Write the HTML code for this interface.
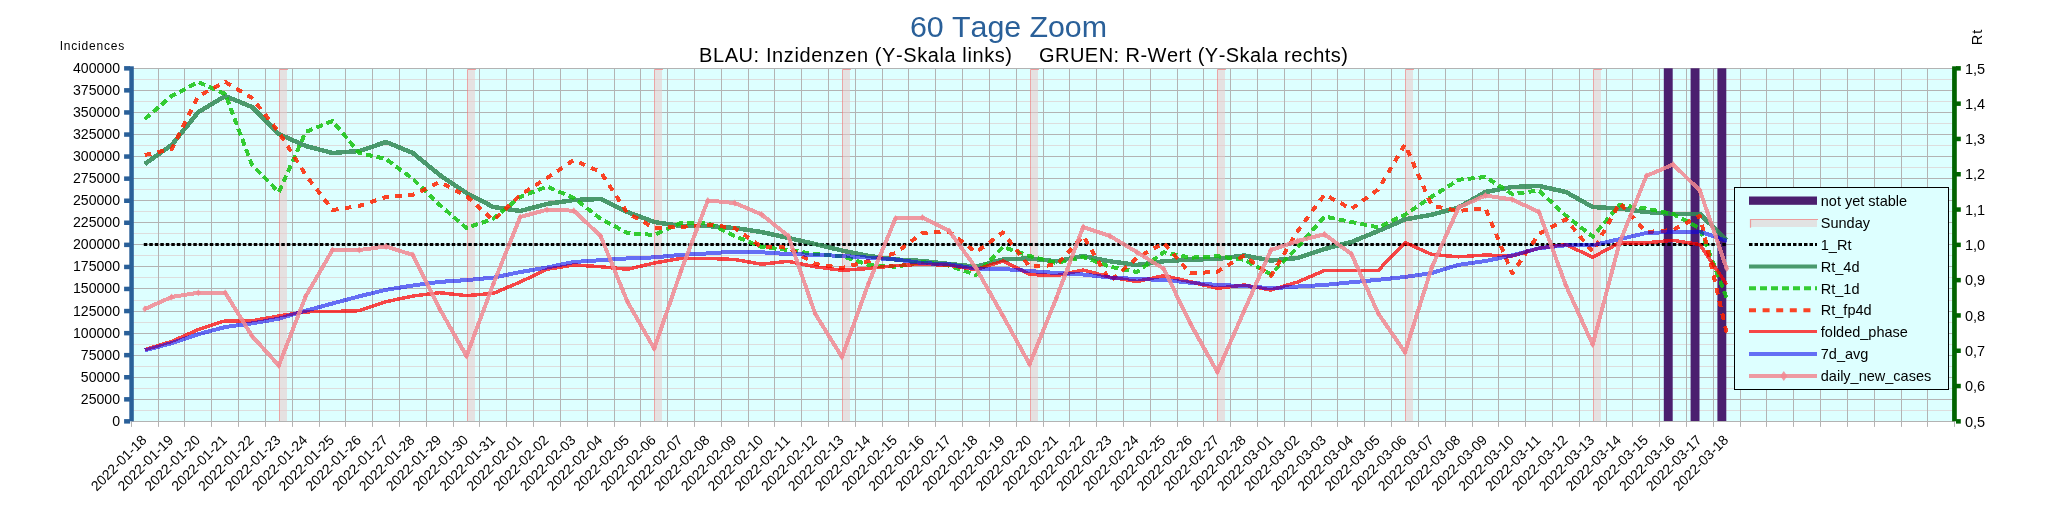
<!DOCTYPE html><html><head><meta charset="utf-8"><title>60 Tage Zoom</title>
<style>html,body{margin:0;padding:0;background:#fff;width:2048px;height:527px;overflow:hidden}svg{display:block;will-change:transform}text{font-family:"Liberation Sans", sans-serif;font-kerning:none}</style></head><body>
<svg width="2048" height="527" viewBox="0 0 2048 527">
<rect x="131.4" y="68.3" width="1823.3" height="353.1" fill="#ddffff"/>
<path d="M131.4 79.5H1954.7M131.4 101.5H1954.7M131.4 123.5H1954.7M131.4 145.5H1954.7M131.4 167.5H1954.7M131.4 189.5H1954.7M131.4 211.5H1954.7M131.4 233.5H1954.7M131.4 255.5H1954.7M131.4 277.5H1954.7M131.4 300.5H1954.7M131.4 322.5H1954.7M131.4 344.5H1954.7M131.4 366.5H1954.7M131.4 388.5H1954.7M131.4 410.5H1954.7" stroke="#dddddd" stroke-width="1" fill="none"/>
<path d="M131.4 68.5H1954.7M131.4 90.5H1954.7M131.4 112.5H1954.7M131.4 134.5H1954.7M131.4 156.5H1954.7M131.4 178.5H1954.7M131.4 200.5H1954.7M131.4 222.5H1954.7M131.4 244.5H1954.7M131.4 266.5H1954.7M131.4 288.5H1954.7M131.4 311.5H1954.7M131.4 333.5H1954.7M131.4 355.5H1954.7M131.4 377.5H1954.7M131.4 399.5H1954.7M158.5 68.3V421.4M184.5 68.3V421.4M211.5 68.3V421.4M238.5 68.3V421.4M265.5 68.3V421.4M292.5 68.3V421.4M319.5 68.3V421.4M345.5 68.3V421.4M372.5 68.3V421.4M399.5 68.3V421.4M426.5 68.3V421.4M453.5 68.3V421.4M479.5 68.3V421.4M506.5 68.3V421.4M533.5 68.3V421.4M560.5 68.3V421.4M587.5 68.3V421.4M614.5 68.3V421.4M640.5 68.3V421.4M667.5 68.3V421.4M694.5 68.3V421.4M721.5 68.3V421.4M748.5 68.3V421.4M774.5 68.3V421.4M801.5 68.3V421.4M828.5 68.3V421.4M855.5 68.3V421.4M882.5 68.3V421.4M908.5 68.3V421.4M935.5 68.3V421.4M962.5 68.3V421.4M989.5 68.3V421.4M1016.5 68.3V421.4M1043.5 68.3V421.4M1069.5 68.3V421.4M1096.5 68.3V421.4M1123.5 68.3V421.4M1150.5 68.3V421.4M1177.5 68.3V421.4M1203.5 68.3V421.4M1230.5 68.3V421.4M1257.5 68.3V421.4M1284.5 68.3V421.4M1311.5 68.3V421.4M1337.5 68.3V421.4M1364.5 68.3V421.4M1391.5 68.3V421.4M1418.5 68.3V421.4M1445.5 68.3V421.4M1472.5 68.3V421.4M1498.5 68.3V421.4M1525.5 68.3V421.4M1552.5 68.3V421.4M1579.5 68.3V421.4M1606.5 68.3V421.4M1632.5 68.3V421.4M1659.5 68.3V421.4M1686.5 68.3V421.4M1713.5 68.3V421.4M1740.5 68.3V421.4M1766.5 68.3V421.4M1793.5 68.3V421.4M1820.5 68.3V421.4M1847.5 68.3V421.4M1874.5 68.3V421.4M1901.5 68.3V421.4M1927.5 68.3V421.4" stroke="#b3b3b3" stroke-width="1" fill="none"/>
<path d="M131.5 421.4V426.9M158.5 421.4V426.9M184.5 421.4V426.9M211.5 421.4V426.9M238.5 421.4V426.9M265.5 421.4V426.9M292.5 421.4V426.9M319.5 421.4V426.9M345.5 421.4V426.9M372.5 421.4V426.9M399.5 421.4V426.9M426.5 421.4V426.9M453.5 421.4V426.9M479.5 421.4V426.9M506.5 421.4V426.9M533.5 421.4V426.9M560.5 421.4V426.9M587.5 421.4V426.9M614.5 421.4V426.9M640.5 421.4V426.9M667.5 421.4V426.9M694.5 421.4V426.9M721.5 421.4V426.9M748.5 421.4V426.9M774.5 421.4V426.9M801.5 421.4V426.9M828.5 421.4V426.9M855.5 421.4V426.9M882.5 421.4V426.9M908.5 421.4V426.9M935.5 421.4V426.9M962.5 421.4V426.9M989.5 421.4V426.9M1016.5 421.4V426.9M1043.5 421.4V426.9M1069.5 421.4V426.9M1096.5 421.4V426.9M1123.5 421.4V426.9M1150.5 421.4V426.9M1177.5 421.4V426.9M1203.5 421.4V426.9M1230.5 421.4V426.9M1257.5 421.4V426.9M1284.5 421.4V426.9M1311.5 421.4V426.9M1337.5 421.4V426.9M1364.5 421.4V426.9M1391.5 421.4V426.9M1418.5 421.4V426.9M1445.5 421.4V426.9M1472.5 421.4V426.9M1498.5 421.4V426.9M1525.5 421.4V426.9M1552.5 421.4V426.9M1579.5 421.4V426.9M1606.5 421.4V426.9M1632.5 421.4V426.9M1659.5 421.4V426.9M1686.5 421.4V426.9M1713.5 421.4V426.9M1740.5 421.4V426.9M1766.5 421.4V426.9M1793.5 421.4V426.9M1820.5 421.4V426.9M1847.5 421.4V426.9M1874.5 421.4V426.9M1901.5 421.4V426.9M1927.5 421.4V426.9M1954.5 421.4V426.9" stroke="#b3b3b3" stroke-width="1" fill="none"/>
<rect x="280" y="69" width="7" height="352.4" fill="#ebc9c9" fill-opacity="0.55"/>
<path d="M279.5 421.4V69.5H288" stroke="#f08080" stroke-opacity="0.7" stroke-width="1" fill="none"/>
<rect x="468" y="69" width="7" height="352.4" fill="#ebc9c9" fill-opacity="0.55"/>
<path d="M467.5 421.4V69.5H476" stroke="#f08080" stroke-opacity="0.7" stroke-width="1" fill="none"/>
<rect x="655" y="69" width="7" height="352.4" fill="#ebc9c9" fill-opacity="0.55"/>
<path d="M654.5 421.4V69.5H663" stroke="#f08080" stroke-opacity="0.7" stroke-width="1" fill="none"/>
<rect x="843" y="69" width="7" height="352.4" fill="#ebc9c9" fill-opacity="0.55"/>
<path d="M842.5 421.4V69.5H851" stroke="#f08080" stroke-opacity="0.7" stroke-width="1" fill="none"/>
<rect x="1031" y="69" width="7" height="352.4" fill="#ebc9c9" fill-opacity="0.55"/>
<path d="M1030.5 421.4V69.5H1039" stroke="#f08080" stroke-opacity="0.7" stroke-width="1" fill="none"/>
<rect x="1218" y="69" width="7" height="352.4" fill="#ebc9c9" fill-opacity="0.55"/>
<path d="M1217.5 421.4V69.5H1226" stroke="#f08080" stroke-opacity="0.7" stroke-width="1" fill="none"/>
<rect x="1406" y="69" width="7" height="352.4" fill="#ebc9c9" fill-opacity="0.55"/>
<path d="M1405.5 421.4V69.5H1414" stroke="#f08080" stroke-opacity="0.7" stroke-width="1" fill="none"/>
<rect x="1594" y="69" width="7" height="352.4" fill="#ebc9c9" fill-opacity="0.55"/>
<path d="M1593.5 421.4V69.5H1602" stroke="#f08080" stroke-opacity="0.7" stroke-width="1" fill="none"/>
<rect x="1663.8" y="68.3" width="8.9" height="353.1" fill="#4b1f6f"/>
<rect x="1690.6" y="68.3" width="8.9" height="353.1" fill="#4b1f6f"/>
<rect x="1717.4" y="68.3" width="8.9" height="353.1" fill="#4b1f6f"/>
<path d="M131.4 421.5H1954.7" stroke="#b3b3b3" stroke-width="1"/>
<rect x="129.3" y="66.3" width="4.5" height="355" fill="#2a6099"/>
<rect x="124.1" y="419.1" width="6" height="4.5" fill="#2a6099"/><rect x="124.1" y="397.1" width="6" height="4.5" fill="#2a6099"/><rect x="124.1" y="375" width="6" height="4.5" fill="#2a6099"/><rect x="124.1" y="352.9" width="6" height="4.5" fill="#2a6099"/><rect x="124.1" y="330.9" width="6" height="4.5" fill="#2a6099"/><rect x="124.1" y="308.8" width="6" height="4.5" fill="#2a6099"/><rect x="124.1" y="286.7" width="6" height="4.5" fill="#2a6099"/><rect x="124.1" y="264.7" width="6" height="4.5" fill="#2a6099"/><rect x="124.1" y="242.6" width="6" height="4.5" fill="#2a6099"/><rect x="124.1" y="220.5" width="6" height="4.5" fill="#2a6099"/><rect x="124.1" y="198.5" width="6" height="4.5" fill="#2a6099"/><rect x="124.1" y="176.4" width="6" height="4.5" fill="#2a6099"/><rect x="124.1" y="154.3" width="6" height="4.5" fill="#2a6099"/><rect x="124.1" y="132.3" width="6" height="4.5" fill="#2a6099"/><rect x="124.1" y="110.2" width="6" height="4.5" fill="#2a6099"/><rect x="124.1" y="88.1" width="6" height="4.5" fill="#2a6099"/><rect x="124.1" y="66.1" width="6" height="4.5" fill="#2a6099"/>
<rect x="1952.1" y="66.3" width="4.7" height="355" fill="#006400"/>
<rect x="1956" y="419.1" width="4.8" height="4.5" fill="#006400"/><rect x="1956" y="383.8" width="4.8" height="4.5" fill="#006400"/><rect x="1956" y="348.5" width="4.8" height="4.5" fill="#006400"/><rect x="1956" y="313.2" width="4.8" height="4.5" fill="#006400"/><rect x="1956" y="277.9" width="4.8" height="4.5" fill="#006400"/><rect x="1956" y="242.6" width="4.8" height="4.5" fill="#006400"/><rect x="1956" y="207.3" width="4.8" height="4.5" fill="#006400"/><rect x="1956" y="172" width="4.8" height="4.5" fill="#006400"/><rect x="1956" y="136.7" width="4.8" height="4.5" fill="#006400"/><rect x="1956" y="101.4" width="4.8" height="4.5" fill="#006400"/><rect x="1956" y="66.1" width="4.8" height="4.5" fill="#006400"/>
<path d="M143.8 244.5H1726.7" stroke="#000" stroke-width="3" stroke-dasharray="3.5 2"/>
<polyline points="144.8,164 171.6,145 198.4,112 225.2,96 252,107 278.8,134 305.7,146 332.5,153 359.3,151 386.1,142 412.9,153 439.7,175 466.5,193 493.3,207 520.2,211 547,204 573.8,200 600.6,199 627.4,212 654.2,222 681,226 707.8,226 734.7,228 761.5,232 788.3,238 815.1,244 841.9,250.5 868.7,256 895.5,259.5 922.4,261 949.2,264 976,266.7 1002.8,259.5 1029.6,258.4 1056.4,261.3 1083.2,256 1110,261.3 1136.9,265 1163.7,261.3 1190.5,259.5 1217.3,259 1244.1,255.5 1270.9,260.5 1297.7,258 1324.5,249 1351.4,242 1378.2,231 1405,219.4 1431.8,214.7 1458.6,207.5 1485.4,192 1512.2,187 1539,186 1565.9,192 1592.7,207 1619.5,208.5 1646.3,212 1673.1,214 1699.9,214 1726.7,240" fill="none" stroke="#308854" stroke-width="4.5" stroke-linejoin="round" shape-rendering="crispEdges" stroke-opacity="0.85"/>
<polyline points="144.8,119 171.6,96 198.4,82 225.2,94 252,165 278.8,192 305.7,132 332.5,121 359.3,153 386.1,159 412.9,179 439.7,205 466.5,228 493.3,218.7 520.2,197 547,186.5 573.8,198 600.6,218.7 627.4,233 654.2,235 681,223 707.8,223 734.7,236 761.5,247 788.3,250 815.1,254 841.9,256 868.7,265 895.5,266.7 922.4,262 949.2,265.6 976,275 1002.8,247 1029.6,256 1056.4,263 1083.2,257 1110,266.7 1136.9,272 1163.7,252.3 1190.5,257.7 1217.3,256.2 1244.1,259.8 1270.9,274.2 1297.7,247.2 1324.5,216.5 1351.4,222 1378.2,227.4 1405,214.7 1431.8,196.7 1458.6,179.8 1485.4,177 1512.2,194 1539,190.5 1565.9,215.7 1592.7,236.6 1619.5,205 1646.3,208.5 1673.1,214 1699.9,228.4 1726.7,298" fill="none" stroke="#15c30f" stroke-width="4" stroke-linejoin="round" shape-rendering="crispEdges" stroke-dasharray="7 4" stroke-opacity="0.85"/>
<polyline points="144.8,155 171.6,149 198.4,96 225.2,82 252,98 278.8,132 305.7,175 332.5,210 359.3,206 386.1,197 412.9,195 439.7,182 466.5,196 493.3,220.5 520.2,195 547,178 573.8,160 600.6,172 627.4,213 654.2,228 681,227 707.8,224.5 734.7,228 761.5,247 788.3,247.6 815.1,264 841.9,268 868.7,261 895.5,253 922.4,233 949.2,231.7 976,252.3 1002.8,232.5 1029.6,266.7 1056.4,265 1083.2,236 1110,281 1136.9,258 1163.7,243 1190.5,273.5 1217.3,271.7 1244.1,255.5 1270.9,276 1297.7,231 1324.5,194.5 1351.4,209 1378.2,189.5 1405,144.4 1431.8,205.7 1458.6,211 1485.4,208 1512.2,273.4 1539,233.8 1565.9,219.3 1592.7,251.8 1619.5,203 1646.3,232 1673.1,230 1699.9,215.7 1726.7,333" fill="none" stroke="#ff2300" stroke-width="4" stroke-linejoin="round" shape-rendering="crispEdges" stroke-dasharray="6.5 6.5" stroke-opacity="0.85"/>
<polyline points="144.8,349.7 171.6,341.4 198.4,329.5 225.2,320.8 252,320.8 278.8,316 305.7,311.8 332.5,311.5 359.3,310.7 386.1,301.7 412.9,296 439.7,292.7 466.5,295.6 493.3,293.4 520.2,282 547,269.3 573.8,265 600.6,266.7 627.4,269.3 654.2,263 681,258.4 707.8,258.4 734.7,259.5 761.5,264.2 788.3,261.3 815.1,266.7 841.9,270.3 868.7,268.5 895.5,265.6 922.4,264.2 949.2,265.3 976,269.7 1002.8,261 1029.6,274.4 1056.4,275.7 1083.2,270 1110,277.2 1136.9,281.5 1163.7,275.7 1190.5,281.8 1217.3,288.3 1244.1,285 1270.9,290 1297.7,282 1324.5,270.5 1351.4,270.5 1378.2,270.5 1405,242.5 1431.8,254.5 1458.6,256.8 1485.4,255 1512.2,256 1539,248.2 1565.9,244.6 1592.7,257.2 1619.5,242.8 1646.3,242.8 1673.1,240.3 1699.9,244.6 1726.7,284.5" fill="none" stroke="#ff0000" stroke-width="3.5" stroke-linejoin="round" shape-rendering="crispEdges" stroke-opacity="0.72"/>
<polyline points="144.8,350.4 171.6,343.2 198.4,334.2 225.2,327 252,323.4 278.8,318.7 305.7,310.7 332.5,303.5 359.3,296.3 386.1,289.8 412.9,285.5 439.7,281.9 466.5,280.1 493.3,277.6 520.2,272.1 547,267.5 573.8,262 600.6,260.2 627.4,258.4 654.2,257.4 681,254.8 707.8,253.4 734.7,251.6 761.5,252.3 788.3,254.1 815.1,254.8 841.9,255.9 868.7,257.7 895.5,259.5 922.4,263.1 949.2,264.3 976,268.7 1002.8,269 1029.6,271 1056.4,273 1083.2,274.5 1110,277.5 1136.9,279 1163.7,280 1190.5,282.7 1217.3,285 1244.1,286 1270.9,288.3 1297.7,286.5 1324.5,285 1351.4,282.3 1378.2,279.8 1405,277 1431.8,273 1458.6,264.8 1485.4,261 1512.2,255.4 1539,248.2 1565.9,245.3 1592.7,245.3 1619.5,239.2 1646.3,233 1673.1,232 1699.9,231.5 1726.7,241" fill="none" stroke="#0901ed" stroke-width="4" stroke-linejoin="round" shape-rendering="crispEdges" stroke-opacity="0.57"/>
<polyline points="144.8,309 171.6,297 198.4,292.7 225.2,292.7 252,336 278.8,365.5 305.7,296.3 332.5,250 359.3,250 386.1,246.5 412.9,255 439.7,309 466.5,356 493.3,284 520.2,217 547,209.7 573.8,210.7 600.6,236 627.4,301.7 654.2,348.6 681,271 707.8,200.5 734.7,203 761.5,214.4 788.3,236 815.1,313.6 841.9,357 868.7,283 895.5,218.5 922.4,217.5 949.2,231 976,268 1002.8,315.6 1029.6,364.3 1056.4,298 1083.2,227 1110,236 1136.9,252.2 1163.7,268.7 1190.5,323.8 1217.3,372 1244.1,311 1270.9,250 1297.7,241 1324.5,234.3 1351.4,254 1378.2,313.4 1405,352.3 1431.8,267.3 1458.6,207.5 1485.4,195.5 1512.2,199.5 1539,212 1565.9,285.5 1592.7,344.6 1619.5,243 1646.3,176 1673.1,164.5 1699.9,190.5 1726.7,268.5" fill="none" stroke="#f18892" stroke-width="4" stroke-linejoin="round" shape-rendering="crispEdges" stroke-opacity="0.85"/>
<path d="M144.8 305.5l2.5 3.5l-2.5 3.5l-2.5 -3.5zM171.6 293.5l2.5 3.5l-2.5 3.5l-2.5 -3.5zM198.4 289.2l2.5 3.5l-2.5 3.5l-2.5 -3.5zM225.2 289.2l2.5 3.5l-2.5 3.5l-2.5 -3.5zM252 332.5l2.5 3.5l-2.5 3.5l-2.5 -3.5zM278.8 362l2.5 3.5l-2.5 3.5l-2.5 -3.5zM305.7 292.8l2.5 3.5l-2.5 3.5l-2.5 -3.5zM332.5 246.5l2.5 3.5l-2.5 3.5l-2.5 -3.5zM359.3 246.5l2.5 3.5l-2.5 3.5l-2.5 -3.5zM386.1 243l2.5 3.5l-2.5 3.5l-2.5 -3.5zM412.9 251.5l2.5 3.5l-2.5 3.5l-2.5 -3.5zM439.7 305.5l2.5 3.5l-2.5 3.5l-2.5 -3.5zM466.5 352.5l2.5 3.5l-2.5 3.5l-2.5 -3.5zM493.3 280.5l2.5 3.5l-2.5 3.5l-2.5 -3.5zM520.2 213.5l2.5 3.5l-2.5 3.5l-2.5 -3.5zM547 206.2l2.5 3.5l-2.5 3.5l-2.5 -3.5zM573.8 207.2l2.5 3.5l-2.5 3.5l-2.5 -3.5zM600.6 232.5l2.5 3.5l-2.5 3.5l-2.5 -3.5zM627.4 298.2l2.5 3.5l-2.5 3.5l-2.5 -3.5zM654.2 345.1l2.5 3.5l-2.5 3.5l-2.5 -3.5zM681 267.5l2.5 3.5l-2.5 3.5l-2.5 -3.5zM707.8 197l2.5 3.5l-2.5 3.5l-2.5 -3.5zM734.7 199.5l2.5 3.5l-2.5 3.5l-2.5 -3.5zM761.5 210.9l2.5 3.5l-2.5 3.5l-2.5 -3.5zM788.3 232.5l2.5 3.5l-2.5 3.5l-2.5 -3.5zM815.1 310.1l2.5 3.5l-2.5 3.5l-2.5 -3.5zM841.9 353.5l2.5 3.5l-2.5 3.5l-2.5 -3.5zM868.7 279.5l2.5 3.5l-2.5 3.5l-2.5 -3.5zM895.5 215l2.5 3.5l-2.5 3.5l-2.5 -3.5zM922.4 214l2.5 3.5l-2.5 3.5l-2.5 -3.5zM949.2 227.5l2.5 3.5l-2.5 3.5l-2.5 -3.5zM976 264.5l2.5 3.5l-2.5 3.5l-2.5 -3.5zM1002.8 312.1l2.5 3.5l-2.5 3.5l-2.5 -3.5zM1029.6 360.8l2.5 3.5l-2.5 3.5l-2.5 -3.5zM1056.4 294.5l2.5 3.5l-2.5 3.5l-2.5 -3.5zM1083.2 223.5l2.5 3.5l-2.5 3.5l-2.5 -3.5zM1110 232.5l2.5 3.5l-2.5 3.5l-2.5 -3.5zM1136.9 248.7l2.5 3.5l-2.5 3.5l-2.5 -3.5zM1163.7 265.2l2.5 3.5l-2.5 3.5l-2.5 -3.5zM1190.5 320.3l2.5 3.5l-2.5 3.5l-2.5 -3.5zM1217.3 368.5l2.5 3.5l-2.5 3.5l-2.5 -3.5zM1244.1 307.5l2.5 3.5l-2.5 3.5l-2.5 -3.5zM1270.9 246.5l2.5 3.5l-2.5 3.5l-2.5 -3.5zM1297.7 237.5l2.5 3.5l-2.5 3.5l-2.5 -3.5zM1324.5 230.8l2.5 3.5l-2.5 3.5l-2.5 -3.5zM1351.4 250.5l2.5 3.5l-2.5 3.5l-2.5 -3.5zM1378.2 309.9l2.5 3.5l-2.5 3.5l-2.5 -3.5zM1405 348.8l2.5 3.5l-2.5 3.5l-2.5 -3.5zM1431.8 263.8l2.5 3.5l-2.5 3.5l-2.5 -3.5zM1458.6 204l2.5 3.5l-2.5 3.5l-2.5 -3.5zM1485.4 192l2.5 3.5l-2.5 3.5l-2.5 -3.5zM1512.2 196l2.5 3.5l-2.5 3.5l-2.5 -3.5zM1539 208.5l2.5 3.5l-2.5 3.5l-2.5 -3.5zM1565.9 282l2.5 3.5l-2.5 3.5l-2.5 -3.5zM1592.7 341.1l2.5 3.5l-2.5 3.5l-2.5 -3.5zM1619.5 239.5l2.5 3.5l-2.5 3.5l-2.5 -3.5zM1646.3 172.5l2.5 3.5l-2.5 3.5l-2.5 -3.5zM1673.1 161l2.5 3.5l-2.5 3.5l-2.5 -3.5zM1699.9 187l2.5 3.5l-2.5 3.5l-2.5 -3.5zM1726.7 265l2.5 3.5l-2.5 3.5l-2.5 -3.5z" fill="#f18892" fill-opacity="0.85"/>
<text x="120" y="425.8" text-anchor="end" font-size="14.1" fill="#000">0</text><text x="120" y="403.7" text-anchor="end" font-size="14.1" fill="#000">25000</text><text x="120" y="381.7" text-anchor="end" font-size="14.1" fill="#000">50000</text><text x="120" y="359.6" text-anchor="end" font-size="14.1" fill="#000">75000</text><text x="120" y="337.5" text-anchor="end" font-size="14.1" fill="#000">100000</text><text x="120" y="315.5" text-anchor="end" font-size="14.1" fill="#000">125000</text><text x="120" y="293.4" text-anchor="end" font-size="14.1" fill="#000">150000</text><text x="120" y="271.3" text-anchor="end" font-size="14.1" fill="#000">175000</text><text x="120" y="249.2" text-anchor="end" font-size="14.1" fill="#000">200000</text><text x="120" y="227.2" text-anchor="end" font-size="14.1" fill="#000">225000</text><text x="120" y="205.1" text-anchor="end" font-size="14.1" fill="#000">250000</text><text x="120" y="183" text-anchor="end" font-size="14.1" fill="#000">275000</text><text x="120" y="161" text-anchor="end" font-size="14.1" fill="#000">300000</text><text x="120" y="138.9" text-anchor="end" font-size="14.1" fill="#000">325000</text><text x="120" y="116.8" text-anchor="end" font-size="14.1" fill="#000">350000</text><text x="120" y="94.8" text-anchor="end" font-size="14.1" fill="#000">375000</text><text x="120" y="72.7" text-anchor="end" font-size="14.1" fill="#000">400000</text>
<text x="1965" y="426.6" font-size="14.5" fill="#000">0,5</text><text x="1965" y="391.3" font-size="14.5" fill="#000">0,6</text><text x="1965" y="356" font-size="14.5" fill="#000">0,7</text><text x="1965" y="320.7" font-size="14.5" fill="#000">0,8</text><text x="1965" y="285.4" font-size="14.5" fill="#000">0,9</text><text x="1965" y="250" font-size="14.5" fill="#000">1,0</text><text x="1965" y="214.7" font-size="14.5" fill="#000">1,1</text><text x="1965" y="179.4" font-size="14.5" fill="#000">1,2</text><text x="1965" y="144.1" font-size="14.5" fill="#000">1,3</text><text x="1965" y="108.8" font-size="14.5" fill="#000">1,4</text><text x="1965" y="73.5" font-size="14.5" fill="#000">1,5</text>
<text transform="translate(147.4 441) rotate(-45)" text-anchor="end" font-size="14" fill="#000">2022-01-18</text><text transform="translate(174.2 441) rotate(-45)" text-anchor="end" font-size="14" fill="#000">2022-01-19</text><text transform="translate(201 441) rotate(-45)" text-anchor="end" font-size="14" fill="#000">2022-01-20</text><text transform="translate(227.8 441) rotate(-45)" text-anchor="end" font-size="14" fill="#000">2022-01-21</text><text transform="translate(254.6 441) rotate(-45)" text-anchor="end" font-size="14" fill="#000">2022-01-22</text><text transform="translate(281.4 441) rotate(-45)" text-anchor="end" font-size="14" fill="#000">2022-01-23</text><text transform="translate(308.3 441) rotate(-45)" text-anchor="end" font-size="14" fill="#000">2022-01-24</text><text transform="translate(335.1 441) rotate(-45)" text-anchor="end" font-size="14" fill="#000">2022-01-25</text><text transform="translate(361.9 441) rotate(-45)" text-anchor="end" font-size="14" fill="#000">2022-01-26</text><text transform="translate(388.7 441) rotate(-45)" text-anchor="end" font-size="14" fill="#000">2022-01-27</text><text transform="translate(415.5 441) rotate(-45)" text-anchor="end" font-size="14" fill="#000">2022-01-28</text><text transform="translate(442.3 441) rotate(-45)" text-anchor="end" font-size="14" fill="#000">2022-01-29</text><text transform="translate(469.1 441) rotate(-45)" text-anchor="end" font-size="14" fill="#000">2022-01-30</text><text transform="translate(495.9 441) rotate(-45)" text-anchor="end" font-size="14" fill="#000">2022-01-31</text><text transform="translate(522.8 441) rotate(-45)" text-anchor="end" font-size="14" fill="#000">2022-02-01</text><text transform="translate(549.6 441) rotate(-45)" text-anchor="end" font-size="14" fill="#000">2022-02-02</text><text transform="translate(576.4 441) rotate(-45)" text-anchor="end" font-size="14" fill="#000">2022-02-03</text><text transform="translate(603.2 441) rotate(-45)" text-anchor="end" font-size="14" fill="#000">2022-02-04</text><text transform="translate(630 441) rotate(-45)" text-anchor="end" font-size="14" fill="#000">2022-02-05</text><text transform="translate(656.8 441) rotate(-45)" text-anchor="end" font-size="14" fill="#000">2022-02-06</text><text transform="translate(683.6 441) rotate(-45)" text-anchor="end" font-size="14" fill="#000">2022-02-07</text><text transform="translate(710.4 441) rotate(-45)" text-anchor="end" font-size="14" fill="#000">2022-02-08</text><text transform="translate(737.3 441) rotate(-45)" text-anchor="end" font-size="14" fill="#000">2022-02-09</text><text transform="translate(764.1 441) rotate(-45)" text-anchor="end" font-size="14" fill="#000">2022-02-10</text><text transform="translate(790.9 441) rotate(-45)" text-anchor="end" font-size="14" fill="#000">2022-02-11</text><text transform="translate(817.7 441) rotate(-45)" text-anchor="end" font-size="14" fill="#000">2022-02-12</text><text transform="translate(844.5 441) rotate(-45)" text-anchor="end" font-size="14" fill="#000">2022-02-13</text><text transform="translate(871.3 441) rotate(-45)" text-anchor="end" font-size="14" fill="#000">2022-02-14</text><text transform="translate(898.1 441) rotate(-45)" text-anchor="end" font-size="14" fill="#000">2022-02-15</text><text transform="translate(925 441) rotate(-45)" text-anchor="end" font-size="14" fill="#000">2022-02-16</text><text transform="translate(951.8 441) rotate(-45)" text-anchor="end" font-size="14" fill="#000">2022-02-17</text><text transform="translate(978.6 441) rotate(-45)" text-anchor="end" font-size="14" fill="#000">2022-02-18</text><text transform="translate(1005.4 441) rotate(-45)" text-anchor="end" font-size="14" fill="#000">2022-02-19</text><text transform="translate(1032.2 441) rotate(-45)" text-anchor="end" font-size="14" fill="#000">2022-02-20</text><text transform="translate(1059 441) rotate(-45)" text-anchor="end" font-size="14" fill="#000">2022-02-21</text><text transform="translate(1085.8 441) rotate(-45)" text-anchor="end" font-size="14" fill="#000">2022-02-22</text><text transform="translate(1112.6 441) rotate(-45)" text-anchor="end" font-size="14" fill="#000">2022-02-23</text><text transform="translate(1139.5 441) rotate(-45)" text-anchor="end" font-size="14" fill="#000">2022-02-24</text><text transform="translate(1166.3 441) rotate(-45)" text-anchor="end" font-size="14" fill="#000">2022-02-25</text><text transform="translate(1193.1 441) rotate(-45)" text-anchor="end" font-size="14" fill="#000">2022-02-26</text><text transform="translate(1219.9 441) rotate(-45)" text-anchor="end" font-size="14" fill="#000">2022-02-27</text><text transform="translate(1246.7 441) rotate(-45)" text-anchor="end" font-size="14" fill="#000">2022-02-28</text><text transform="translate(1273.5 441) rotate(-45)" text-anchor="end" font-size="14" fill="#000">2022-03-01</text><text transform="translate(1300.3 441) rotate(-45)" text-anchor="end" font-size="14" fill="#000">2022-03-02</text><text transform="translate(1327.1 441) rotate(-45)" text-anchor="end" font-size="14" fill="#000">2022-03-03</text><text transform="translate(1354 441) rotate(-45)" text-anchor="end" font-size="14" fill="#000">2022-03-04</text><text transform="translate(1380.8 441) rotate(-45)" text-anchor="end" font-size="14" fill="#000">2022-03-05</text><text transform="translate(1407.6 441) rotate(-45)" text-anchor="end" font-size="14" fill="#000">2022-03-06</text><text transform="translate(1434.4 441) rotate(-45)" text-anchor="end" font-size="14" fill="#000">2022-03-07</text><text transform="translate(1461.2 441) rotate(-45)" text-anchor="end" font-size="14" fill="#000">2022-03-08</text><text transform="translate(1488 441) rotate(-45)" text-anchor="end" font-size="14" fill="#000">2022-03-09</text><text transform="translate(1514.8 441) rotate(-45)" text-anchor="end" font-size="14" fill="#000">2022-03-10</text><text transform="translate(1541.6 441) rotate(-45)" text-anchor="end" font-size="14" fill="#000">2022-03-11</text><text transform="translate(1568.5 441) rotate(-45)" text-anchor="end" font-size="14" fill="#000">2022-03-12</text><text transform="translate(1595.3 441) rotate(-45)" text-anchor="end" font-size="14" fill="#000">2022-03-13</text><text transform="translate(1622.1 441) rotate(-45)" text-anchor="end" font-size="14" fill="#000">2022-03-14</text><text transform="translate(1648.9 441) rotate(-45)" text-anchor="end" font-size="14" fill="#000">2022-03-15</text><text transform="translate(1675.7 441) rotate(-45)" text-anchor="end" font-size="14" fill="#000">2022-03-16</text><text transform="translate(1702.5 441) rotate(-45)" text-anchor="end" font-size="14" fill="#000">2022-03-17</text><text transform="translate(1729.3 441) rotate(-45)" text-anchor="end" font-size="14" fill="#000">2022-03-18</text>
<text x="910" y="37" font-size="30.4" textLength="197" lengthAdjust="spacing" fill="#2a6099">60 Tage Zoom</text>
<text x="699" y="62" font-size="20" textLength="313" lengthAdjust="spacing" fill="#000">BLAU: Inzidenzen (Y-Skala links)</text>
<text x="1039" y="62" font-size="20" textLength="309" lengthAdjust="spacing" fill="#000">GRUEN: R-Wert (Y-Skala rechts)</text>
<text x="59.7" y="49.9" font-size="12" letter-spacing="0.8" fill="#000">Incidences</text>
<text transform="translate(1982 45.2) rotate(-90)" font-size="14.5" letter-spacing="1" fill="#000">Rt</text>
<rect x="1734.5" y="187.5" width="214" height="202" fill="#ddffff" stroke="#000" stroke-width="1"/>
<rect x="1749" y="196.5" width="68" height="8.3" fill="#4b1f6f"/>
<text x="1820.8" y="205.9" font-size="14.5" fill="#000">not yet stable</text>
<rect x="1751" y="220" width="66" height="7" fill="#e2e3e3"/>
<path d="M1750.5 227.8V219.5H1818" stroke="#eb9c9c" stroke-width="1.2" fill="none"/>
<text x="1820.8" y="227.8" font-size="14.5" fill="#000">Sunday</text>
<path d="M1749 244.5H1817" stroke="#000" stroke-width="3" stroke-dasharray="3.5 2"/>
<text x="1820.8" y="249.7" font-size="14.5" fill="#000">1_Rt</text>
<path d="M1749 266.4H1817" stroke="#308854" stroke-opacity="0.85" stroke-width="4"/>
<text x="1820.8" y="271.6" font-size="14.5" fill="#000">Rt_4d</text>
<path d="M1749 288.3H1817" stroke="#15c30f" stroke-opacity="0.85" stroke-width="4" stroke-dasharray="7 4"/>
<text x="1820.8" y="293.5" font-size="14.5" fill="#000">Rt_1d</text>
<path d="M1749 310.2H1817" stroke="#ff2300" stroke-opacity="0.85" stroke-width="4" stroke-dasharray="7 6.6"/>
<text x="1820.8" y="315.4" font-size="14.5" fill="#000">Rt_fp4d</text>
<path d="M1749 331.6H1817" stroke="#ff0000" stroke-opacity="0.72" stroke-width="3"/>
<text x="1820.8" y="337.3" font-size="14.5" fill="#000">folded_phase</text>
<path d="M1749 354H1817" stroke="#0901ed" stroke-opacity="0.57" stroke-width="4"/>
<text x="1820.8" y="359.2" font-size="14.5" fill="#000">7d_avg</text>
<path d="M1749 375.9H1817" stroke="#f18892" stroke-opacity="0.85" stroke-width="4"/>
<path d="M1783.8 370.9l3.5 5l-3.5 5l-3.5 -5z" fill="#f18892" fill-opacity="0.85"/>
<text x="1820.8" y="381.1" font-size="14.5" fill="#000">daily_new_cases</text>
</svg></body></html>
